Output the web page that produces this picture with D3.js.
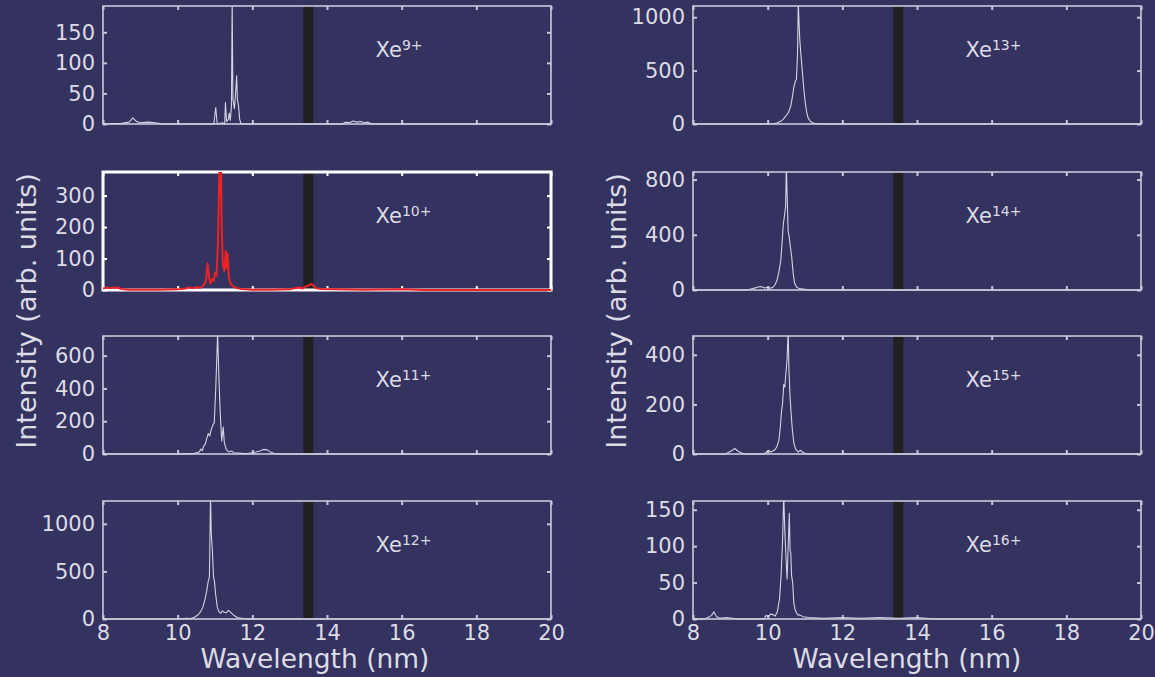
<!DOCTYPE html>
<html>
<head>
<meta charset="utf-8">
<script src="https://cdn.jsdelivr.net/npm/d3@7"></script>
<style>
  html, body { margin: 0; padding: 0; background: #34325f; }
  svg { display: block; }
  text { font-family: "DejaVu Sans", Verdana, sans-serif; fill: #dcdce6; }
</style>
</head>
<body>
<div id="chart"></div>
<script>
// ion labels, one per panel (left column top to bottom, then right column)
const ions = ['9', '10', '11', '12', '13', '14', '15', '16'];

// y-axis upper limits and tick values
const yMax = [193, 375, 720, 1240, 1105, 855, 476, 162];
const yTicks = [
  [0, 50, 100, 150],
  [0, 100, 200, 300],
  [0, 200, 400, 600],
  [0, 500, 1000],
  [0, 500, 1000],
  [0, 400, 800],
  [0, 200, 400],
  [0, 50, 100, 150]
];
const xTicks = [8, 10, 12, 14, 16, 18, 20];

// 2% in-band window around 13.5 nm (the dark stripe)
const band = [13.365, 13.635];

// spectra: [wavelength nm, intensity]
const xe9 = [[8.0,0],[8.5,1],[8.7,3],[8.8,10],[8.9,4],[9.0,2],[9.2,3],[9.4,2],[9.6,0],[10.0,0],[10.5,0],[10.97,0],[11.02,27],[11.06,0],[11.2,2],[11.26,0],[11.28,35],[11.31,4],[11.36,8],[11.38,18],[11.41,6],[11.44,28],[11.46,200],[11.48,40],[11.52,25],[11.55,50],[11.58,79],[11.6,40],[11.63,30],[11.66,8],[11.7,0],[12,0],[13,0],[14.4,0],[14.5,3],[14.6,2],[14.7,5],[14.8,3],[14.9,4],[15.0,2],[15.1,3],[15.2,0],[16,0],[20,0]];
const xe10 = [[8.0,5],[8.1,8],[8.2,6],[8.3,8],[8.4,7],[8.5,3],[8.7,1],[9.0,1],[9.5,1],[10.0,2],[10.2,5],[10.3,8],[10.4,6],[10.5,9],[10.6,7],[10.7,15],[10.76,30],[10.8,85],[10.84,40],[10.88,20],[10.92,35],[10.96,28],[11.0,55],[11.04,45],[11.08,150],[11.12,390],[11.14,300],[11.16,390],[11.18,200],[11.21,80],[11.25,60],[11.29,125],[11.31,70],[11.34,115],[11.37,40],[11.42,20],[11.5,10],[11.6,6],[11.7,3],[12.0,1],[12.5,1],[13.0,2],[13.15,6],[13.25,8],[13.35,5],[13.45,12],[13.52,15],[13.58,20],[13.63,14],[13.7,6],[13.85,3],[14.2,2],[15,1],[16,2],[16.4,1],[16.6,0],[20,0]];
const xe11 = [[8,0],[10,0],[10.4,2],[10.5,8],[10.58,12],[10.62,30],[10.66,20],[10.7,50],[10.74,60],[10.78,95],[10.82,125],[10.86,110],[10.9,150],[10.94,175],[10.98,190],[11.02,400],[11.05,600],[11.07,740],[11.09,580],[11.11,430],[11.14,250],[11.18,80],[11.22,165],[11.25,70],[11.3,30],[11.36,12],[11.45,18],[11.5,8],[11.6,6],[11.8,2],[12.0,8],[12.1,12],[12.2,18],[12.3,28],[12.4,25],[12.5,10],[12.6,3],[12.8,0],[20,0]];
const xe12 = [[8,0],[10,0],[10.1,3],[10.25,8],[10.35,6],[10.45,18],[10.55,45],[10.62,80],[10.68,130],[10.74,220],[10.78,300],[10.82,400],[10.85,440],[10.88,1300],[10.9,900],[10.93,720],[10.96,450],[10.99,380],[11.02,250],[11.06,130],[11.1,80],[11.15,60],[11.2,85],[11.25,70],[11.3,65],[11.36,90],[11.42,70],[11.5,40],[11.6,15],[11.75,5],[11.9,0],[20,0]];
const xe13 = [[8,0],[10,0],[10.15,3],[10.25,10],[10.35,25],[10.42,45],[10.5,80],[10.56,110],[10.62,170],[10.66,250],[10.7,340],[10.74,400],[10.77,420],[10.8,650],[10.82,1150],[10.84,950],[10.86,790],[10.89,650],[10.92,530],[10.96,360],[11.0,220],[11.04,120],[11.08,60],[11.14,25],[11.22,10],[11.35,3],[11.5,0],[20,0]];
const xe14 = [[8,0],[9.4,0],[9.5,4],[9.6,10],[9.7,18],[9.8,26],[9.85,22],[9.92,14],[10.0,20],[10.08,12],[10.15,22],[10.2,40],[10.25,70],[10.3,130],[10.35,210],[10.39,360],[10.42,480],[10.45,540],[10.48,600],[10.5,900],[10.52,700],[10.55,420],[10.57,400],[10.6,330],[10.64,250],[10.68,130],[10.72,50],[10.78,20],[10.85,10],[11.0,5],[11.1,0],[20,0]];
const xe15 = [[8,0],[8.85,0],[8.95,6],[9.05,15],[9.12,22],[9.2,12],[9.3,4],[9.4,0],[9.9,0],[9.97,8],[10.03,15],[10.08,8],[10.14,12],[10.2,18],[10.25,30],[10.3,55],[10.34,110],[10.37,170],[10.4,205],[10.43,280],[10.46,270],[10.49,330],[10.52,380],[10.55,500],[10.57,340],[10.6,230],[10.63,160],[10.66,100],[10.7,45],[10.75,20],[10.82,8],[10.87,15],[10.93,8],[11.0,2],[11.1,0],[20,0]];
const xe16 = [[8,0],[8.3,0],[8.4,2],[8.5,5],[8.56,10],[8.62,4],[8.7,1],[8.9,2],[9.2,0],[9.9,0],[9.96,5],[10.02,3],[10.08,7],[10.14,6],[10.2,4],[10.26,10],[10.32,28],[10.36,60],[10.4,110],[10.43,170],[10.46,120],[10.49,85],[10.52,55],[10.55,100],[10.58,145],[10.6,95],[10.62,90],[10.64,60],[10.67,50],[10.7,22],[10.74,12],[10.8,6],[10.88,5],[10.95,3],[11.1,2],[11.5,1],[12.0,2],[12.5,1],[13.0,2],[13.5,1],[14.0,2],[14.5,0],[20,0]];

const spectra = [xe9, xe10, xe11, xe12, xe13, xe14, xe15, xe16];
const highlight = 1; // Xe10+ is drawn in red with a heavy frame

const W = 1155, H = 677;
const colLeft = [103, 693];
const plotW = 448;
const plotH = 118;
const rowTop = [6, 172, 336, 501];

const svg = d3.select('#chart').append('svg')
  .attr('width', W)
  .attr('height', H);

svg.append('rect')
  .attr('width', W)
  .attr('height', H)
  .attr('fill', '#34325f');

const x = d3.scaleLinear().domain([8, 20]).range([0, plotW]);
const fmt = d3.format('d');

spectra.forEach((data, i) => {
  const col = Math.floor(i / 4);
  const row = i % 4;
  const isHi = i === highlight;
  const frameColor = isHi ? '#ffffff' : '#c8c8da';

  const y = d3.scaleLinear().domain([0, yMax[i]]).range([plotH, 0]);

  const g = svg.append('g')
    .attr('transform', 'translate(' + colLeft[col] + ',' + rowTop[row] + ')');

  g.append('clipPath')
    .attr('id', 'clip' + i)
    .append('rect')
    .attr('x', 0)
    .attr('y', 0)
    .attr('width', plotW)
    .attr('height', plotH + 2);

  // dark in-band stripe
  g.append('rect')
    .attr('x', x(band[0]))
    .attr('y', 0)
    .attr('width', x(band[1]) - x(band[0]))
    .attr('height', plotH)
    .attr('fill', '#221f22');

  // frame
  g.append('rect')
    .attr('width', plotW)
    .attr('height', plotH)
    .attr('fill', 'none')
    .attr('stroke', frameColor)
    .attr('stroke-width', isHi ? 3 : 1.6);

  // inward ticks on all four sides
  const tickStyle = sel => {
    sel.select('.domain').remove();
    sel.selectAll('.tick line')
      .attr('stroke', frameColor)
      .attr('stroke-width', 2);
    sel.selectAll('.tick text')
      .attr('fill', '#dcdce6')
      .style('font-family', '"DejaVu Sans", Verdana, sans-serif')
      .style('font-size', '21px');
  };

  g.append('g')
    .call(d3.axisLeft(y).tickValues(yTicks[i]).tickFormat(fmt).tickSizeInner(-4).tickSizeOuter(0).tickPadding(8))
    .call(tickStyle);

  g.append('g')
    .attr('transform', 'translate(' + plotW + ',0)')
    .call(d3.axisRight(y).tickValues(yTicks[i]).tickSizeInner(-4).tickSizeOuter(0).tickFormat(''))
    .call(tickStyle);

  g.append('g')
    .call(d3.axisTop(x).tickValues(xTicks).tickSizeInner(-4).tickSizeOuter(0).tickFormat(''))
    .call(tickStyle);

  const bottomAxis = d3.axisBottom(x).tickValues(xTicks).tickSizeInner(-4).tickSizeOuter(0).tickPadding(6);
  if (row !== 3) bottomAxis.tickFormat('');
  g.append('g')
    .attr('transform', 'translate(0,' + plotH + ')')
    .call(bottomAxis)
    .call(tickStyle);

  // spectrum
  const line = d3.line()
    .x(d => x(d[0]))
    .y(d => y(d[1]));

  g.append('path')
    .datum(data)
    .attr('clip-path', 'url(#clip' + i + ')')
    .attr('d', line)
    .attr('fill', 'none')
    .attr('stroke', isHi ? '#ee2222' : '#d4d4e4')
    .attr('stroke-width', isHi ? 2 : 1.1)
    .attr('stroke-linejoin', 'round');

  // ion label
  const lab = g.append('text')
    .attr('x', x(15.3))
    .attr('y', 51)
    .style('font-size', '21px');
  lab.append('tspan').text('Xe');
  lab.append('tspan')
    .attr('dy', -7)
    .style('font-size', '14px')
    .text(ions[i] + '+');
});

// axis titles
colLeft.forEach((cx, c) => {
  svg.append('text')
    .attr('x', cx + plotW / 2 - (c === 0 ? 12 : 10))
    .attr('y', 668)
    .attr('text-anchor', 'middle')
    .style('font-size', '26.5px')
    .text('Wavelength (nm)');

  svg.append('text')
    .attr('transform', 'translate(' + (cx - 67) + ',311) rotate(-90)')
    .attr('text-anchor', 'middle')
    .style('font-size', '27px')
    .text('Intensity (arb. units)');
});
</script>
</body>
</html>
